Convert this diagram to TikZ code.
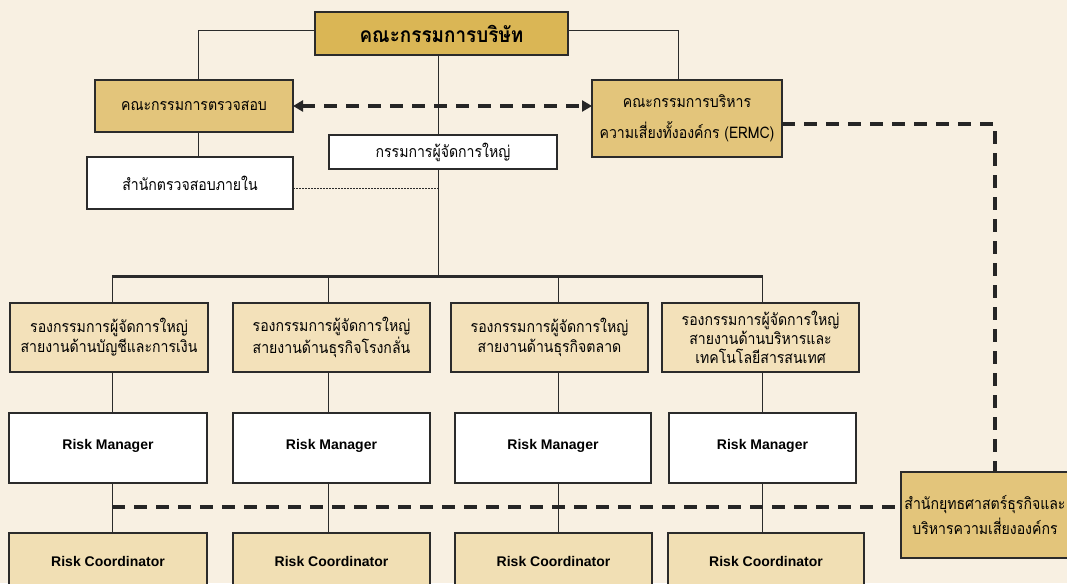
\documentclass[tikz,border=0pt]{standalone}
\usepackage{fontspec}
\newfontfamily\thai[Script=Thai,FakeStretch=0.88]{Loma}
\newfontfamily\thaib[Script=Thai,FakeStretch=0.9]{Loma}
\newfontfamily\lsans{Liberation Sans}
\usetikzlibrary{arrows.meta}
\definecolor{bg}{HTML}{F8F0E2}
\definecolor{goldA}{HTML}{DAB655}
\definecolor{goldB}{HTML}{E3C57B}
\definecolor{cream}{HTML}{F3E1BA}
\definecolor{creamB}{HTML}{F1DFB4}
\definecolor{edge}{HTML}{2B2B2B}
\begin{document}
\begin{tikzpicture}[x=1pt,y=-1pt,
  box/.style={draw=edge, line width=1.2pt, inner sep=0pt, outer sep=0pt, anchor=north west, align=center},
  thaitxt/.style={font=\thai\fontsize{16}{20}\selectfont},
  rmtxt/.style={font=\lsans\bfseries\fontsize{14}{16}\selectfont},
  conn/.style={draw=edge, line width=1pt},
  bar/.style={draw=edge, line width=3pt},
  dashline/.style={draw=black!85, line width=3.5pt, dash pattern=on 13pt off 9pt},
  dotline/.style={draw=edge, line width=0.8pt, dash pattern=on 1.5pt off 1.5pt}
]
\fill[bg] (0,0) rectangle (1067,583);
\useasboundingbox (0,0) rectangle (1067,583);

% top level
\node[box, fill=goldA, minimum width=253pt, minimum height=43pt, font=\thaib\bfseries\fontsize{21}{24}\selectfont] (board) at (315,12) {คณะกรรมการบริษัท};
\node[box, fill=goldB, minimum width=198pt, minimum height=52pt, thaitxt] (audit) at (95,80) {คณะกรรมการตรวจสอบ};
\node[box, fill=white, minimum width=206pt, minimum height=52pt, thaitxt, text depth=0pt, text height=14pt] (iaudit) at (87,157) {สำนักตรวจสอบภายใน};
\node[box, fill=goldB, minimum width=190pt, minimum height=77pt, font=\thai\fontsize{16}{31}\selectfont] (ermc) at (592,80) {คณะกรรมการบริหาร\\ความเสี่ยงทั้งองค์กร (ERMC)};
\node[box, fill=goldB, minimum width=168pt, minimum height=86pt, font=\thai\fontsize{16}{25}\selectfont] (strat) at (901,472) {สำนักยุทธศาสตร์ธุรกิจและ\\บริหารความเสี่ยงองค์กร};

% coordinates
\coordinate (bl) at (112,276);
\coordinate (bm) at (438,276);
\coordinate (br) at (763,276);
\coordinate (c1) at (112,276);
\coordinate (c2) at (328,276);
\coordinate (c3) at (558,276);
\coordinate (c4) at (762,276);
\coordinate (dotend) at (438,188);
\coordinate (ermcturn) at (995,124);
\coordinate (dl) at (112,507);
\coordinate (lcorner) at (198,31);
\coordinate (rcorner) at (678,31);

% connectors behind boxes
\draw[conn] (board.west |- lcorner) -- (lcorner) -- (lcorner |- audit.north);
\draw[conn] (board.east |- rcorner) -- (rcorner) -- (rcorner |- ermc.north);
\draw[conn] (lcorner |- audit.south) -- (lcorner |- iaudit.north);
\draw[conn] (board.south -| bm) -- (bm);
\draw[dotline] (iaudit.east |- dotend) -- (dotend);
\draw[bar] (bl) -- (br);

\node[box, fill=white, minimum width=228pt, minimum height=34pt, thaitxt] (ceo) at (329,135) {กรรมการผู้จัดการใหญ่};

% VP boxes
\node[box, fill=cream, minimum width=198pt, minimum height=69pt, thaitxt] (vp1) at (10,303) {รองกรรมการผู้จัดการใหญ่\\สายงานด้านบัญชีและการเงิน};
\node[box, fill=cream, minimum width=197pt, minimum height=69pt, thaitxt] (vp2) at (233,303) {รองกรรมการผู้จัดการใหญ่\\สายงานด้านธุรกิจโรงกลั่น};
\node[box, fill=cream, minimum width=197pt, minimum height=69pt, thaitxt] (vp3) at (451,303) {รองกรรมการผู้จัดการใหญ่\\สายงานด้านธุรกิจตลาด};
\node[box, fill=cream, minimum width=197pt, minimum height=69pt, font=\thai\fontsize{16}{19}\selectfont] (vp4) at (662,303) {รองกรรมการผู้จัดการใหญ่\\สายงานด้านบริหารและ\\เทคโนโลยีสารสนเทศ};

% Risk managers
\node[box, fill=white, minimum width=198pt, minimum height=70pt, rmtxt, text depth=8pt] (rm1) at (9,413) {Risk Manager};
\node[box, fill=white, minimum width=197pt, minimum height=70pt, rmtxt, text depth=8pt] (rm2) at (233,413) {Risk Manager};
\node[box, fill=white, minimum width=196pt, minimum height=70pt, rmtxt, text depth=8pt] (rm3) at (455,413) {Risk Manager};
\node[box, fill=white, minimum width=187pt, minimum height=70pt, rmtxt, text depth=8pt] (rm4) at (669,413) {Risk Manager};

% Risk coordinators
\node[box, fill=creamB, minimum width=198pt, minimum height=62pt, rmtxt, text depth=6pt] (rc1) at (9,533) {Risk Coordinator};
\node[box, fill=creamB, minimum width=197pt, minimum height=62pt, rmtxt, text depth=6pt] (rc2) at (233,533) {Risk Coordinator};
\node[box, fill=creamB, minimum width=197pt, minimum height=62pt, rmtxt, text depth=6pt] (rc3) at (455,533) {Risk Coordinator};
\node[box, fill=creamB, minimum width=196pt, minimum height=62pt, rmtxt, text depth=6pt] (rc4) at (668,533) {Risk Coordinator};

% vertical connectors
\draw[conn] (ceo.south -| bm) -- (bm);
\foreach \i in {1,2,3,4}{
  \draw[conn] (c\i) -- (c\i |- vp\i.north);
  \draw[conn] (c\i |- vp\i.south) -- (c\i |- rm\i.north);
  \draw[conn] (c\i |- rm\i.south) -- (c\i |- rc\i.north);
}

% dashed links
\draw[dashline, {Triangle[length=10pt,width=11pt]}-{Triangle[length=10pt,width=11pt]}] (audit.east |- 0,106) -- (ermc.west |- 0,106);
\draw[dashline] (ermc.east |- ermcturn) -- (ermcturn) -- (ermcturn |- strat.north);
\draw[dashline] (dl) -- (dl -| strat.west);
\end{tikzpicture}
\end{document}
